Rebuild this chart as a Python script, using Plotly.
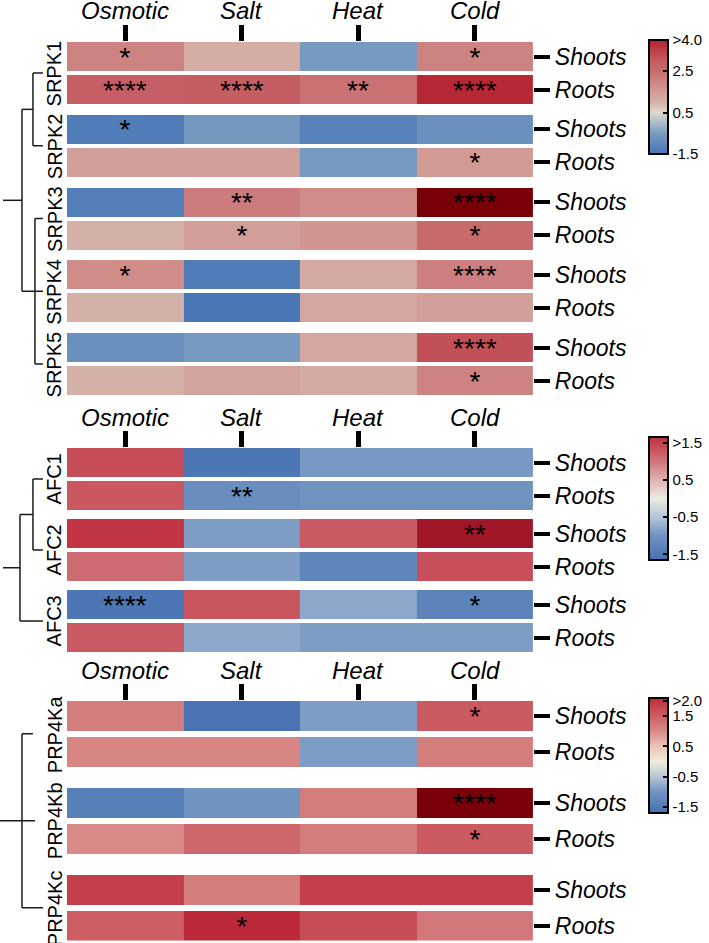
import math
import plotly.graph_objects as go

W, H = 709, 943
FONT = "Arial, 'Liberation Sans', sans-serif"

conditions = ["Osmotic", "Salt", "Heat", "Cold"]
tissues = ["Shoots", "Roots"]

# ---------------- Panel 1: SRPK ----------------
srpk_genes = ["SRPK1", "SRPK2", "SRPK3", "SRPK4", "SRPK5"]
srpk_shoots = [[2.0, 1.1, -0.55, 2.0],
               [-1.3, -0.6, -1.15, -0.8],
               [-1.25, 2.15, 1.85, 5.0],
               [1.8, -1.3, 1.2, 2.1],
               [-0.8, -0.55, 1.25, 3.2]]
srpk_roots = [[2.9, 2.95, 2.4, 3.9],
              [1.4, 1.4, -0.55, 1.55],
              [1.0, 1.45, 1.65, 2.6],
              [1.0, -1.45, 1.25, 1.4],
              [1.0, 1.3, 1.15, 2.0]]
srpk_shoots_sig = [["*", "", "", "*"],
                   ["*", "", "", ""],
                   ["", "**", "", "****"],
                   ["*", "", "", "****"],
                   ["", "", "", "****"]]
srpk_roots_sig = [["****", "****", "**", "****"],
                  ["", "", "", "*"],
                  ["", "*", "", "*"],
                  ["", "", "", ""],
                  ["", "", "", "*"]]
srpk_clusters = [[0, 1], [2, 3, 4]]
srpk_cbar_vals = [-1.5, 0.5, 2.5, 4.0]
srpk_cbar_text = ["-1.5", "0.5", "2.5", ">4.0"]

# ---------------- Panel 2: AFC ----------------
afc_genes = ["AFC1", "AFC2", "AFC3"]
afc_shoots = [[1.37, -1.55, -0.95, -0.95],
              [1.6, -0.9, 1.25, 2.0],
              [-1.55, 1.3, -0.8, -1.3]]
afc_roots = [[1.27, -1.1, -1.0, -1.0],
             [1.1, -0.9, -1.25, 1.35],
             [1.25, -0.8, -0.9, -0.9]]
afc_shoots_sig = [["", "", "", ""],
                  ["", "", "", "**"],
                  ["****", "", "", "*"]]
afc_roots_sig = [["", "**", "", ""],
                 ["", "", "", ""],
                 ["", "", "", ""]]
afc_clusters = [[0, 1], [2]]
afc_cbar_vals = [-1.5, -0.5, 0.5, 1.5]
afc_cbar_text = ["-1.5", "-0.5", "0.5", ">1.5"]

# ---------------- Panel 3: PRP4K ----------------
prp_genes = ["PRP4Ka", "PRP4Kb", "PRP4Kc"]
prp_shoots = [[1.15, -1.65, -0.9, 1.55],
              [-1.4, -1.0, 1.15, 3.0],
              [1.85, 1.15, 1.85, 1.85]]
prp_roots = [[1.05, 1.05, -0.9, 1.15],
             [1.0, 1.4, 1.15, 1.55],
             [1.5, 2.1, 1.7, 1.2]]
prp_shoots_sig = [["", "", "", "*"],
                  ["", "", "", "****"],
                  ["", "", "", ""]]
prp_roots_sig = [["", "", "", ""],
                 ["", "", "", "*"],
                 ["", "*", "", ""]]
prp_clusters = [[0], [1], [2]]
prp_cbar_vals = [-1.5, -0.5, 0.5, 1.5, 2.0]
prp_cbar_text = ["-1.5", "-0.5", "0.5", "1.5", ">2.0"]

# ---------------- styles / layout ----------------
panels = [
    dict(genes=srpk_genes, shoots=srpk_shoots, roots=srpk_roots,
         ssig=srpk_shoots_sig, rsig=srpk_roots_sig, clusters=srpk_clusters,
         cvals=srpk_cbar_vals, ctext=srpk_cbar_text,
         top=42, row_h=29, inner=4, pitch=72.75,
         cmin=-1.5, cmax=4.0,
         stops=[(-1.5, "#4674b4"), (-1.0, "#5f88bc"), (-0.5, "#7a9cc0"),
                (0.5, "#ddd9cc"), (1.0, "#d4b1a8"), (1.5, "#d29c97"),
                (2.0, "#cd8382"), (2.5, "#c86d6f"), (3.0, "#c45c62"),
                (4.0, "#b4222f")],
         over="#780008",
         cbar_top=40, cbar_len=114,
         x_stub=3, x_root=22, x_clu=[33, 35], leaf_end=[43, 43, 43, 43, 43]),
    dict(genes=afc_genes, shoots=afc_shoots, roots=afc_roots,
         ssig=afc_shoots_sig, rsig=afc_roots_sig, clusters=afc_clusters,
         cvals=afc_cbar_vals, ctext=afc_cbar_text,
         top=448, row_h=29, inner=4, pitch=71,
         cmin=-1.65, cmax=1.65,
         stops=[(-1.65, "#4671b2"), (-1.0, "#6f93c0"), (-0.5, "#b4c4d6"),
                (0.0, "#ecebe0"), (0.5, "#e0b2b0"), (1.0, "#d0747a"),
                (1.65, "#c0303f")],
         over="#a01828",
         cbar_top=437, cbar_len=123,
         x_stub=3, x_root=20, x_clu=[33, 33], leaf_end=[43, 43, 43]),
    dict(genes=prp_genes, shoots=prp_shoots, roots=prp_roots,
         ssig=prp_shoots_sig, rsig=prp_roots_sig, clusters=prp_clusters,
         cvals=prp_cbar_vals, ctext=prp_cbar_text,
         top=701, row_h=29.5, inner=6.5, pitch=87,
         cmin=-1.7, cmax=2.1,
         stops=[(-1.7, "#4671b2"), (-1.0, "#7093c0"), (-0.5, "#b8c6d6"),
                (0.0, "#eeeed8"), (0.5, "#e9c5b8"), (1.0, "#d88a88"),
                (1.5, "#cc5e64"), (2.1, "#bc2a3a")],
         over="#7a0009",
         cbar_top=698, cbar_len=115,
         x_stub=0, x_root=22, x_clu=[22, 22, 22], leaf_end=[33, 35, 43]),
]

HX0, HX1 = 67, 534
LABEL_ABOVE = 31      # px from top row edge to column label centre
NAN = float("nan")

fig = go.Figure()
layout = dict(width=W, height=H, margin=dict(l=0, r=0, t=0, b=0),
              paper_bgcolor="white", plot_bgcolor="white",
              font=dict(family=FONT, color="black"), showlegend=False)
annotations = []
shapes = []

for i, p in enumerate(panels):
    sfx = "" if i == 0 else str(i + 1)
    xa, ya = "x" + sfx, "y" + sfx
    n = len(p["genes"])
    rh, inner, pitch = p["row_h"], p["inner"], p["pitch"]
    cmin, cmax = p["cmin"], p["cmax"]

    edges, z_main, t_main, z_over, t_over = [], [], [], [], []
    tick_vals, tick_text, pair_centers = [], [], []
    blank = [NAN] * len(conditions)
    for g in range(n):
        s0 = g * pitch
        s1 = s0 + rh
        r0 = s1 + inner
        r1 = r0 + rh
        edges += [s0, s1, r0, r1]
        pair_centers.append((s0 + r1) / 2)
        for k, (vals, sig, y0) in enumerate([(p["shoots"][g], p["ssig"][g], s0),
                                              (p["roots"][g], p["rsig"][g], r0)]):
            zm, tm, zo, to = [], [], [], []
            for v, s in zip(vals, sig):
                if v > cmax:
                    zm.append(NAN); tm.append("")
                    zo.append(1.0); to.append(s)
                else:
                    zm.append(v); tm.append(s)
                    zo.append(NAN); to.append("")
            z_main.append(zm); t_main.append(tm)
            z_over.append(zo); t_over.append(to)
            tick_vals.append(y0 + rh / 2)
            tick_text.append(tissues[k])
            if not (g == n - 1 and k == 1):
                z_main.append(blank); t_main.append([""] * 4)
                z_over.append(blank); t_over.append([""] * 4)
    height = edges[-1]

    cs = [[(v - cmin) / (cmax - cmin), c] for v, c in p["stops"]]
    cs[0][0] = 0.0
    cs[-1][0] = 1.0

    fig.add_trace(go.Heatmap(
        x=conditions, y=edges, z=z_main, text=t_main, texttemplate="%{text}",
        textfont=dict(size=28, color="black", family=FONT),
        colorscale=cs, zmin=cmin, zmax=cmax, hoverinfo="skip",
        xaxis=xa, yaxis=ya,
        colorbar=dict(x=649 / W, xanchor="left", xpad=0,
                      y=1 - p["cbar_top"] / H, yanchor="top", ypad=0,
                      len=p["cbar_len"], lenmode="pixels",
                      thickness=19, thicknessmode="pixels",
                      outlinewidth=2, outlinecolor="black",
                      tickvals=p["cvals"], ticktext=p["ctext"],
                      ticks="inside", ticklen=6, tickwidth=1.5, tickcolor="black",
                      tickfont=dict(size=15, family=FONT, color="black"))))
    fig.add_trace(go.Heatmap(
        x=conditions, y=edges, z=z_over, text=t_over, texttemplate="%{text}",
        textfont=dict(size=28, color="black", family=FONT),
        colorscale=[[0, p["over"]], [1, p["over"]]], zmin=0, zmax=1,
        showscale=False, hoverinfo="skip", xaxis=xa, yaxis=ya))

    top = p["top"]
    layout["xaxis" + sfx] = dict(
        domain=[HX0 / W, HX1 / W], anchor=ya, side="top", type="category",
        range=[-0.5, len(conditions) - 0.5], automargin=False,
        showticklabels=False,
        ticks="outside", ticklen=16, tickwidth=4.5, tickcolor="black",
        showgrid=False, zeroline=False, showline=False, fixedrange=True)
    layout["yaxis" + sfx] = dict(
        domain=[1 - (top + height) / H, 1 - top / H], anchor=xa, side="right",
        range=[height, 0], tickmode="array", tickvals=tick_vals, ticktext=tick_text,
        automargin=False,
        ticks="outside", ticklen=16, tickwidth=4, tickcolor="black",
        tickfont=dict(size=23, style="italic", family=FONT, color="black"),
        showgrid=False, zeroline=False, showline=False, fixedrange=True)

    # column (condition) labels above the ticks
    for c in conditions:
        annotations.append(dict(
            x=c, xref=xa, y=1 - (top - LABEL_ABOVE) / H, yref="paper",
            text=c, showarrow=False, xanchor="center", yanchor="middle",
            font=dict(size=24, style="italic", family=FONT, color="black")))

    for g, name in enumerate(p["genes"]):
        annotations.append(dict(
            x=54.5 / W, xref="paper", y=pair_centers[g], yref=ya,
            text=name, textangle=-90, showarrow=False,
            xanchor="center", yanchor="middle",
            font=dict(size=20, family=FONT, color="black")))

    # dendrogram
    line = dict(color="#1a1a1a", width=1.5)

    def seg(x0, y0, x1, y1):
        shapes.append(dict(type="line", xref="paper", yref=ya,
                           x0=x0 / W, x1=x1 / W, y0=y0, y1=y1, line=line))

    clu_centers = []
    for c, leaves in enumerate(p["clusters"]):
        ys = [pair_centers[l] for l in leaves]
        xc = p["x_clu"][c]
        if len(leaves) > 1:
            seg(xc, min(ys), xc, max(ys))
            for l in leaves:
                seg(xc, pair_centers[l], p["leaf_end"][l], pair_centers[l])
            cy = sum(ys) / len(ys)
            seg(p["x_root"], cy, xc, cy)
        else:
            cy = ys[0]
            seg(p["x_root"], cy, p["leaf_end"][leaves[0]], cy)
        clu_centers.append(cy)
    seg(p["x_root"], min(clu_centers), p["x_root"], max(clu_centers))
    ry = sum(clu_centers) / len(clu_centers)
    seg(p["x_stub"], ry, p["x_root"], ry)

layout["annotations"] = annotations
layout["shapes"] = shapes
fig.update_layout(**layout)
fig.write_html("out.html", config={"displayModeBar": False},
               post_script="document.body.style.margin='0px';"
                           "document.body.style.overflow='hidden';")
